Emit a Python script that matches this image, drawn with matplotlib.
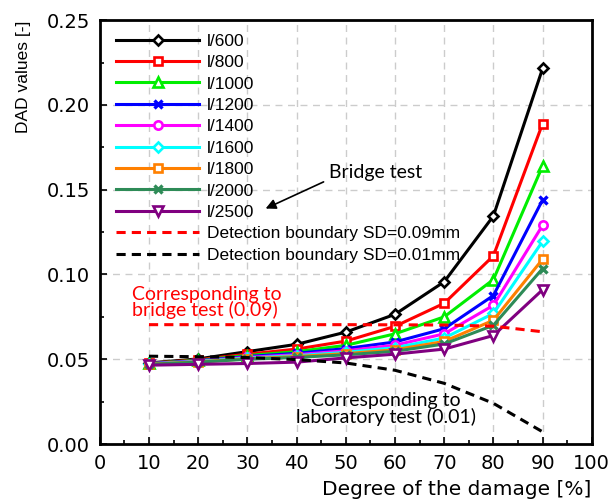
import numpy as np
import matplotlib
matplotlib.use('Agg')
import matplotlib.pyplot as plt
from matplotlib.ticker import MultipleLocator

plt.rcParams['font.family'] = ['Liberation Sans', 'DejaVu Sans']

# Datos
damage = [10, 20, 30, 40, 50, 60, 70, 80, 90]
labels = ['l/600', 'l/800', 'l/1000', 'l/1200', 'l/1400', 'l/1600', 'l/1800', 'l/2000', 'l/2500']

dad_600 = [0.0478, 0.0502, 0.0545, 0.0588, 0.0660, 0.0765, 0.0957, 0.1345, 0.2215]
dad_800 = [0.0476, 0.0497, 0.0530, 0.0560, 0.0607, 0.0694, 0.0830, 0.1110, 0.1890]
dad_1000 = [0.0475, 0.0494, 0.0522, 0.0545, 0.0582, 0.0650, 0.0750, 0.0970, 0.1640]
dad_1200 = [0.0474, 0.0491, 0.0516, 0.0535, 0.0563, 0.0602, 0.0680, 0.0876, 0.1440]
dad_1400 = [0.0473, 0.0489, 0.0511, 0.0527, 0.0550, 0.0583, 0.0650, 0.0818, 0.1290]
dad_1600 = [0.0472, 0.0487, 0.0507, 0.0521, 0.0541, 0.0568, 0.0625, 0.0770, 0.1196]
dad_1800 = [0.0471, 0.0485, 0.0503, 0.0516, 0.0533, 0.0556, 0.0605, 0.0730, 0.1090]
dad_2000 = [0.0470, 0.0483, 0.0500, 0.0511, 0.0526, 0.0547, 0.0590, 0.0700, 0.1035]
dad_2500 = [0.0465, 0.0470, 0.0475, 0.0483, 0.0508, 0.0530, 0.0560, 0.0640, 0.0910]

# Limites de deteccion
sd_009 = [0.0704, 0.0704, 0.0704, 0.0704, 0.0704, 0.0703, 0.0702, 0.0695, 0.0662]
sd_001 = [0.0518, 0.0515, 0.0510, 0.0498, 0.0478, 0.0435, 0.0358, 0.0240, 0.0072]

series = [dad_600, dad_800, dad_1000, dad_1200, dad_1400, dad_1600, dad_1800, dad_2000, dad_2500]
colores = ['black', 'red', '#00ee00', 'blue', '#ff00ff', '#00ffff', '#ff8000', '#2e8b57', '#800080']
marcadores = ['D', 's', '^', 'x', 'o', 'D', 's', 'x', 'v']
tams = [5, 6, 7, 5.5, 6, 5, 6, 5.5, 7]

fig = plt.figure(figsize=(6.12, 5.04), dpi=100)
ax = fig.add_axes([0.163, 0.119, 0.804, 0.841])

for s, lab, c, m, ms in zip(series, labels, colores, marcadores, tams):
    if m == 'x':
        ax.plot(damage, s, color=c, lw=2.2, marker=m, ms=ms, mew=2.4, label=lab)
    else:
        ax.plot(damage, s, color=c, lw=2.2, marker=m, ms=ms, mfc='white', mec=c, mew=1.9, label=lab)

ax.plot(damage, sd_009, color='red', lw=2.2, ls=(0, (3, 2)), label='Detection boundary SD=0.09mm')
ax.plot(damage, sd_001, color='black', lw=2.2, ls=(0, (3, 2)), label='Detection boundary SD=0.01mm')

ax.set_xlim(0, 100)
ax.set_ylim(0, 0.25)
ax.xaxis.set_major_locator(MultipleLocator(10))
ax.xaxis.set_minor_locator(MultipleLocator(5))
ax.yaxis.set_major_locator(MultipleLocator(0.05))
ax.yaxis.set_minor_locator(MultipleLocator(0.025))
ax.yaxis.set_major_formatter(plt.FormatStrFormatter('%.2f'))
ax.tick_params(which='major', direction='in', length=5, width=1.2, labelsize=14, pad=7)
ax.tick_params(which='minor', direction='in', length=3, width=1.2)
for t in ax.get_xticklabels() + ax.get_yticklabels():
    t.set_family('DejaVu Sans')
for sp in ax.spines.values():
    sp.set_linewidth(2)
ax.grid(True, which='major', ls=(0, (5, 4)), color='#cccccc', lw=1)

ax.set_xlabel('Degree of the damage [%]', fontsize=14.5, family='DejaVu Sans', loc='right', labelpad=5)
ax.set_ylabel('DAD values [-]', fontsize=12.5, loc='top', labelpad=11)

leg = ax.legend(loc='upper left', bbox_to_anchor=(0.012, 0.993), frameon=False, fontsize=12.5,
                handlelength=4.8, labelspacing=0.36, handletextpad=0.45, borderaxespad=0.2)

# Anotaciones
ax.text(46.6, 0.160, 'Bridge test', fontsize=14, family='Lato', ha='left', va='center')
ax.annotate('', xy=(33.2, 0.1382), xytext=(46.0, 0.1553),
            arrowprops=dict(arrowstyle='-|>', color='black', lw=1.2, mutation_scale=15))
ax.text(6.5, 0.0835, 'Corresponding to\nbridge test (0.09)', color='red', fontsize=14,
        family='Lato', ha='left', va='center', linespacing=0.9)
ax.text(58.1, 0.0206, 'Corresponding to\nlaboratory test (0.01)', color='black', fontsize=14,
        family='Lato', ha='center', va='center', linespacing=0.9)

plt.savefig('out.png', dpi=100)
